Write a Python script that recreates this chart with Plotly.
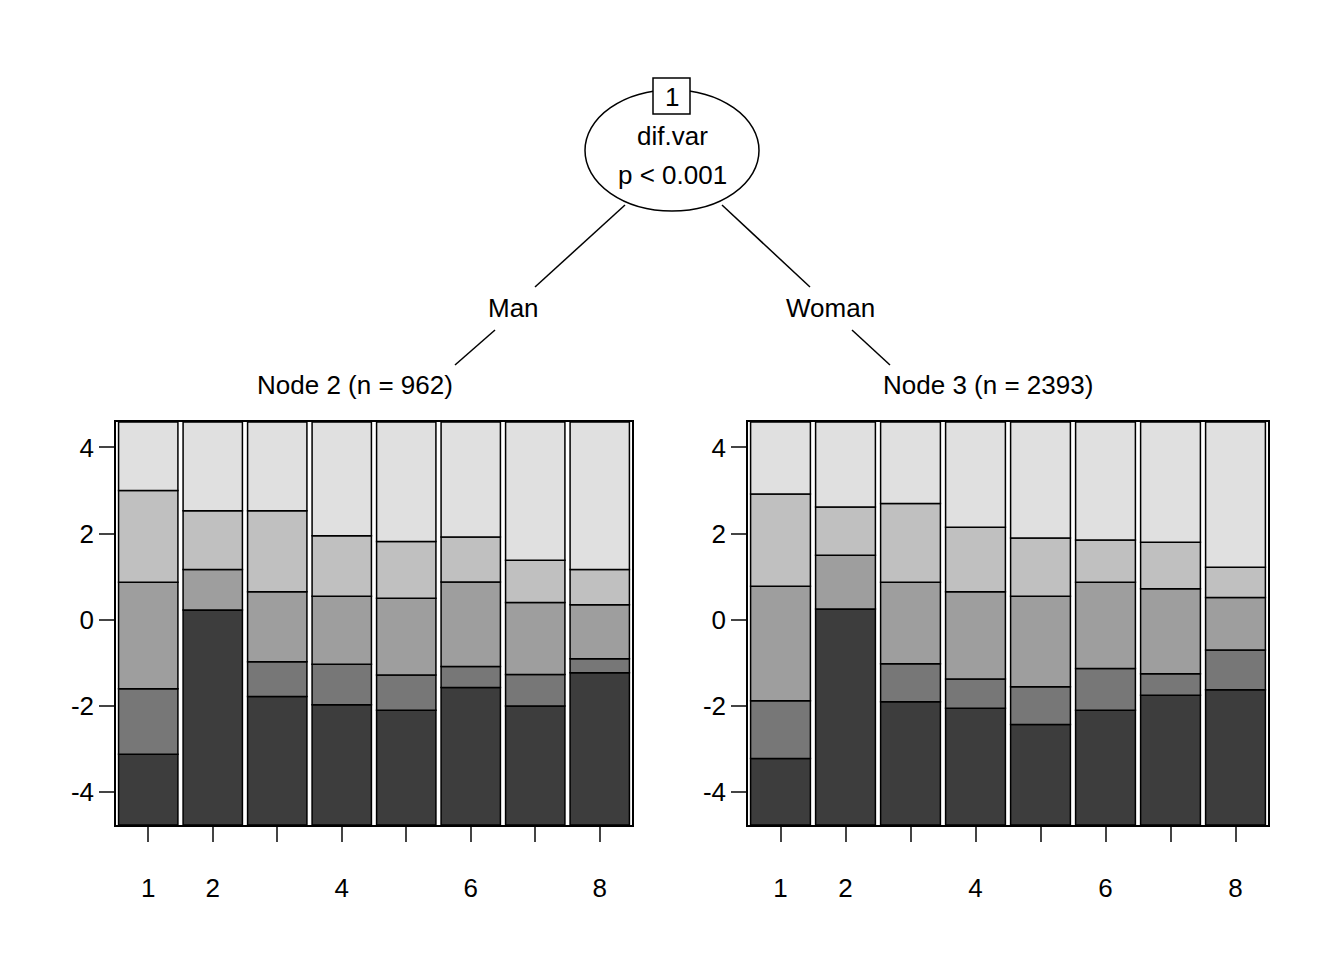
import plotly.graph_objects as go

positions = [1, 2, 3, 4, 5, 6, 7, 8]
y_low, y_high = -4.76, 4.59
colors = ["#3D3D3D", "#777777", "#9E9E9E", "#C0C0C0", "#E0E0E0"]

# boundaries between the stacked segments, top to bottom
node2_cuts = [
    [3.00, 0.87, -1.60, -3.12],
    [2.53, 1.17, 0.23, 0.23],
    [2.53, 0.65, -0.97, -1.78],
    [1.95, 0.55, -1.03, -1.97],
    [1.82, 0.50, -1.28, -2.10],
    [1.92, 0.88, -1.08, -1.57],
    [1.38, 0.40, -1.27, -2.00],
    [1.17, 0.35, -0.90, -1.23],
]
node3_cuts = [
    [2.92, 0.78, -1.88, -3.22],
    [2.62, 1.50, 0.25, 0.25],
    [2.70, 0.87, -1.02, -1.90],
    [2.15, 0.65, -1.37, -2.05],
    [1.90, 0.55, -1.55, -2.43],
    [1.85, 0.87, -1.13, -2.10],
    [1.80, 0.72, -1.25, -1.75],
    [1.22, 0.52, -0.70, -1.62],
]

fig = go.Figure()


def add_panel(cuts, xa, ya):
    for k in range(5):
        bases, heights = [], []
        for c in cuts:
            edges = [y_high] + c + [y_low]
            lo = edges[4 - k + 1]
            hi = edges[4 - k]
            bases.append(lo)
            heights.append(hi - lo)
        fig.add_trace(go.Bar(x=positions, y=heights, base=bases, width=0.92,
                             marker=dict(color=colors[k], line=dict(color="black", width=1.5)),
                             xaxis=xa, yaxis=ya, showlegend=False))


add_panel(node2_cuts, "x", "y")
add_panel(node3_cuts, "x2", "y2")

font = dict(family="Liberation Sans, Arial", size=26, color="black")
xax = dict(range=[0.5, 8.5], tickvals=positions, ticktext=["1", "2", "", "4", "", "6", "", "8"],
           ticks="outside", ticklen=15, tickwidth=1.5, ticklabelstandoff=24,
           showline=True, linecolor="black", linewidth=1.5, mirror=True,
           showgrid=False, zeroline=False, tickfont=font)
yax = dict(range=[y_low, y_high], tickvals=[-4, -2, 0, 2, 4], ticktext=["-4", "-2", "0", "2", "4"],
           ticks="outside", ticklen=15, tickwidth=1.5, showline=True, linecolor="black",
           linewidth=1.5, mirror=True, showgrid=False, zeroline=False, tickfont=font)

OFF = 8  # page body margin
W, H = 1344 - OFF, 960 - OFF


def px(x, y):
    return (x - OFF) / W, 1 - (y - OFF) / H


fig.update_layout(
    width=W, height=H, margin=dict(l=0, r=0, t=0, b=0),
    paper_bgcolor="white", plot_bgcolor="white", barmode="overlay", font=font,
    xaxis=dict(xax, domain=[px(116, 0)[0], px(632, 0)[0]], anchor="y"),
    yaxis=dict(yax, domain=[px(0, 825)[1], px(0, 422)[1]], anchor="x"),
    xaxis2=dict(xax, domain=[px(748, 0)[0], px(1268, 0)[0]], anchor="y2"),
    yaxis2=dict(yax, domain=[px(0, 825)[1], px(0, 422)[1]], anchor="x2"),
)


def line(x0, y0, x1, y1):
    a, b = px(x0, y0)
    c, d = px(x1, y1)
    fig.add_shape(type="line", xref="paper", yref="paper", x0=a, y0=b, x1=c, y1=d,
                  line=dict(color="black", width=1.5))


line(625, 205, 535, 287)
line(722, 205, 810, 287)
line(495, 330, 455, 365)
line(852, 330, 890, 365)

a, b = px(585, 90)
c, d = px(759, 211)
fig.add_shape(type="circle", xref="paper", yref="paper", x0=a, y0=b, x1=c, y1=d,
              line=dict(color="black", width=1.5), fillcolor="white", layer="below")
a, b = px(653, 78)
c, d = px(690, 114)
fig.add_shape(type="rect", xref="paper", yref="paper", x0=a, y0=b, x1=c, y1=d,
              line=dict(color="black", width=1.5), fillcolor="white", layer="below")

labels = [("1", 672, 97), ("dif.var", 672, 136), ("p < 0.001", 672, 175),
          ("Man", 513, 308), ("Woman", 830, 308),
          ("Node 2 (n = 962)", 355, 385), ("Node 3 (n = 2393)", 988, 385)]
for t, x, y in labels:
    a, b = px(x, y)
    fig.add_annotation(text=t, x=a, y=b, xref="paper", yref="paper", showarrow=False,
                       xanchor="center", yanchor="middle", font=font,
                       bgcolor="white" if t in ("Man", "Woman") else None)

fig.write_html("out.html")
